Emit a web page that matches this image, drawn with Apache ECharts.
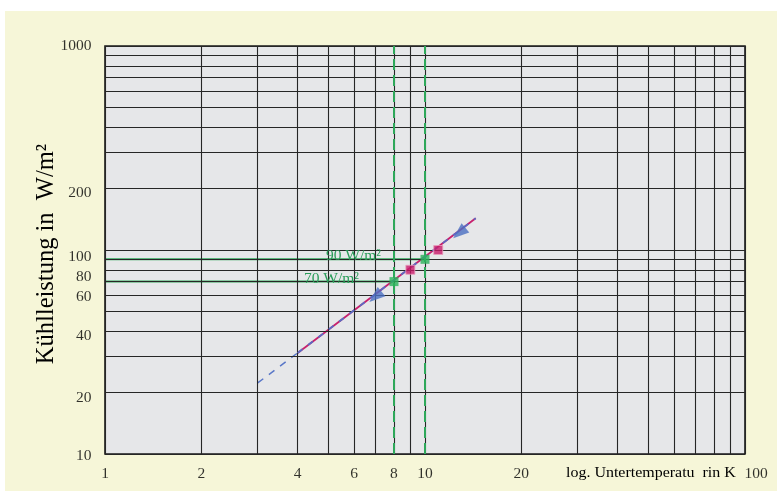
<!DOCTYPE html>
<html>
<head>
<meta charset="utf-8">
<script src="https://cdn.jsdelivr.net/npm/echarts@6/dist/echarts.min.js"></script>
<style>
html,body{margin:0;padding:0;background:#ffffff;}
#chart{width:777px;height:491px;}
</style>
</head>
<body>
<div id="chart"></div>
<script>
// ---- data ----
const xGridValues = [1,2,3,4,5,6,7,8,9,10,20,30,40,50,60,70,80,90,100];
const yGridValues = [10,20,30,40,50,60,70,80,90,100,200,300,400,500,600,700,800,900,1000];
const xTickLabels = [1,2,4,6,8,10,20,100];
const yTickLabels = [10,20,40,60,80,100,200,1000];
const extrapolatedX = [3, 4];
const extrapolatedY = [22.3, 31.3];
const curveX = [4, 14.4];
const curveY = [31.3, 143];
const greenX = [8, 10];
const greenY = [70, 90];
const magentaX = [9, 11];
const magentaY = [80, 100];
const arrowX = [7, 12.8];
const arrowY = [59, 121];
const refLevels = [70, 90];
const refTemps = [8, 10];
const refLabels = ['70 W/m\u00b2', '90 W/m\u00b2'];
const xAxisTitle = 'log. Untertemperatu  rin K';
const yAxisTitle = 'K\u00fchlleistung in  W/m\u00b2';

// ---- styling helpers (label nudges only, not data) ----
const yLabelNudge = {1000: 0, 200: 4, 100: 7, 80: 7, 60: 2, 40: 5, 20: 5, 10: 2};
const xLabelNudge = {100: 11};

const zip = (a, b) => a.map((v, i) => [v, b[i]]);
const SERIF = '"Liberation Serif","Times New Roman",serif';
const GREEN = '#2ea85a';
const TXT = '#000';

const chart = echarts.init(document.getElementById('chart'), null, {renderer: 'canvas'});

const series = [];
series.push({
  type: 'line', data: [], silent: true, z: 1,
  markLine: {
    silent: true, symbol: 'none', animation: false,
    label: {show: false},
    lineStyle: {color: '#262626', width: 1.1, type: 'solid'},
    data: xGridValues.map(v => ({xAxis: v})).concat(yGridValues.map(v => ({yAxis: v})))
  }
});
series.push({
  type: 'line', data: [], silent: true, z: 2,
  markLine: {
    silent: true, symbol: 'none', animation: false,
    label: {show: false},
    lineStyle: {color: GREEN, width: 2, type: [11, 5]},
    data: refTemps.map(v => ({xAxis: v}))
  }
});
refLevels.forEach((lv, i) => {
  series.push({
    type: 'line', data: [[1, lv], [refTemps[i], lv]], symbol: 'none', z: 3,
    lineStyle: {color: GREEN, width: 2}
  });
});
series.push({
  type: 'line', data: zip(extrapolatedX, extrapolatedY), symbol: 'none', z: 4,
  lineStyle: {color: '#5a78c8', width: 1.5, type: [7, 7]}
});
series.push({
  type: 'line', data: zip(curveX, curveY), symbol: 'none', z: 4,
  lineStyle: {color: '#c8206e', width: 1.8}
});
series.push({
  type: 'line', data: zip(curveX, curveY), symbol: 'none', z: 5,
  lineStyle: {color: '#5a6cc4', width: 1.8, type: [6, 7]}
});
series.push({
  type: 'scatter', data: zip(arrowX, arrowY), symbol: 'triangle',
  symbolSize: [12, 16], symbolRotate: 130, z: 6,
  itemStyle: {color: '#4a6fc2'}
});
series.push({
  type: 'scatter', data: zip(greenX, greenY), symbol: 'rect', symbolSize: 9, z: 7,
  itemStyle: {color: '#2bb35a'}
});
series.push({
  type: 'scatter', data: zip(magentaX, magentaY), symbol: 'rect', symbolSize: 9, z: 7,
  itemStyle: {color: '#c81a6a', borderColor: '#e89cbc', borderWidth: 1}
});
series.push({
  type: 'scatter',
  data: xTickLabels.map(v => ({value: [v, 10], label: {offset: [xLabelNudge[v] || 0, 0]}})),
  symbol: 'rect', symbolSize: 1, silent: true, z: 8,
  itemStyle: {color: 'transparent'},
  label: {show: true, position: 'bottom', distance: 11, formatter: p => String(p.value[0]),
    fontFamily: SERIF, fontSize: 15.5, color: TXT}
});
series.push({
  type: 'scatter',
  data: yTickLabels.map(v => ({value: [1, v], label: {offset: [0, yLabelNudge[v] || 0]}})),
  symbol: 'rect', symbolSize: 1, silent: true, z: 8,
  itemStyle: {color: 'transparent'},
  label: {show: true, position: 'left', distance: 13, formatter: p => String(p.value[1]),
    fontFamily: SERIF, fontSize: 15.5, color: TXT}
});

chart.setOption({
  animation: false,
  backgroundColor: 'transparent',
  grid: {left: 105, right: 32, top: 46, bottom: 37, show: true,
    backgroundColor: '#e6e7e9', borderColor: '#1a1a1a', borderWidth: 1.6, z: 0},
  xAxis: {type: 'log', logBase: 10, min: 1, max: 100,
    axisLine: {show: false}, axisTick: {show: false}, axisLabel: {show: false}, splitLine: {show: false}},
  yAxis: {type: 'log', logBase: 10, min: 10, max: 1000,
    axisLine: {show: false}, axisTick: {show: false}, axisLabel: {show: false}, splitLine: {show: false}},
  graphic: [
    {type: 'rect', z: -10, silent: true, shape: {x: 5, y: 11, width: 772, height: 480}, style: {fill: '#f6f6d8'}},
    {type: 'text', z: 10, silent: true, x: 47, y: 254, rotation: Math.PI / 2,
      style: {text: yAxisTitle, x: 0, y: 0, align: 'center', verticalAlign: 'middle',
        font: '24.5px ' + SERIF, fill: TXT}},
    {type: 'text', z: 10, silent: true, x: 566, y: 473, scaleX: 1.03,
      style: {text: xAxisTitle, x: 0, y: 0, verticalAlign: 'middle', align: 'left',
        font: '15.5px ' + SERIF, fill: TXT}},
    {type: 'text', z: 10, silent: true, style: {text: refLabels[1], x: 381, y: 256, verticalAlign: 'middle', align: 'right',
      font: '15.5px ' + SERIF, fill: '#2a9d5a'}},
    {type: 'text', z: 10, silent: true, style: {text: refLabels[0], x: 359, y: 279, verticalAlign: 'middle', align: 'right',
      font: '15.5px ' + SERIF, fill: '#2a9d5a'}}
  ],
  series: series
});
</script>
</body>
</html>
